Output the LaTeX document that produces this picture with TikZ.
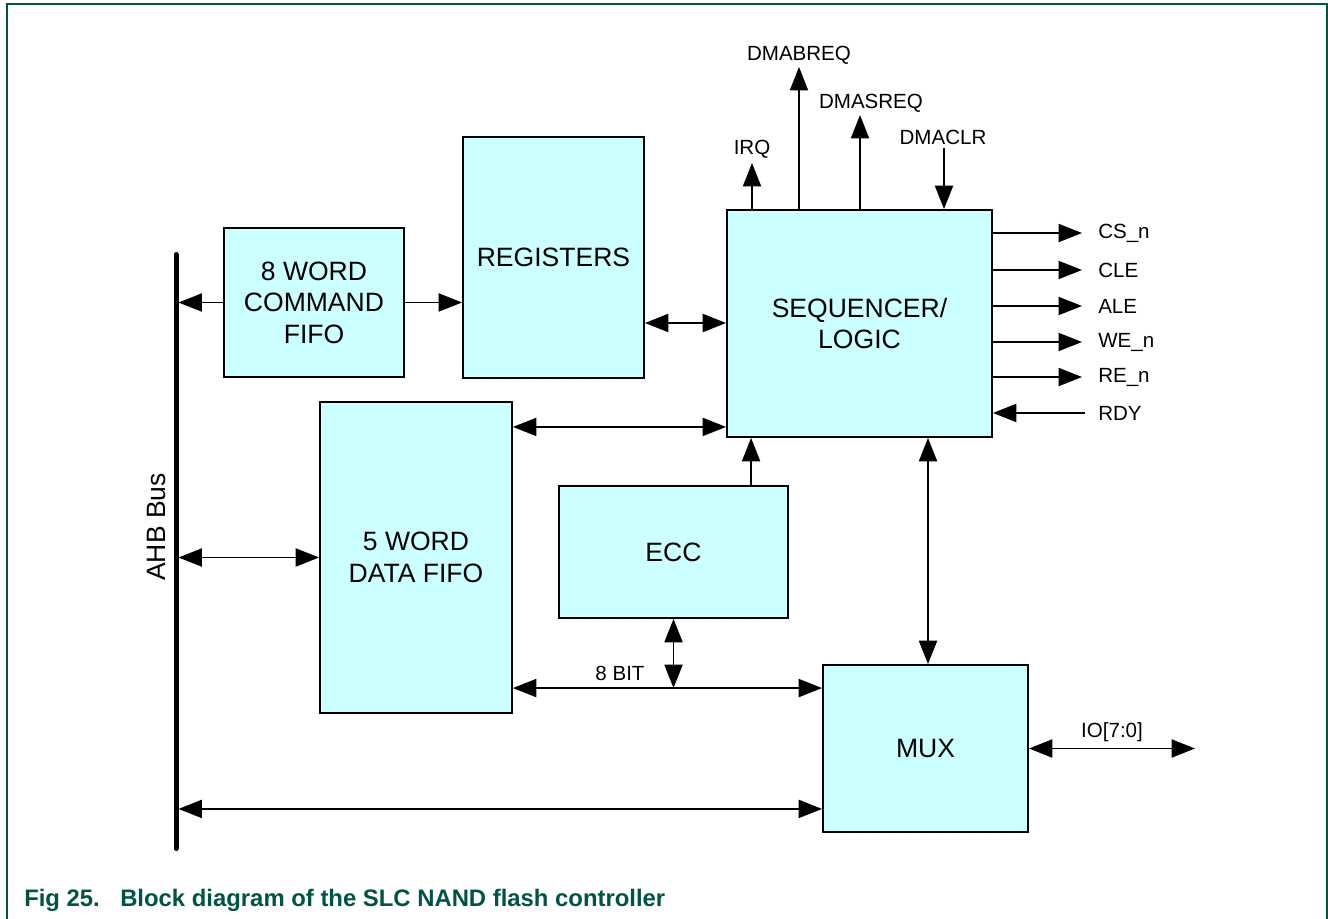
\documentclass[tikz,border=0pt]{standalone}
\usepackage{fontspec}
\setmainfont{Liberation Sans}
\usetikzlibrary{arrows.meta,calc}
\definecolor{nxpgreen}{RGB}{0,84,68}
\definecolor{boxfill}{RGB}{204,255,255}
\newcommand\mainsz{\fontsize{19.9}{23.6}\selectfont}
\newcommand\smallsz{\fontsize{15.4}{18}\selectfont}
\newcommand\capsz{\fontsize{17.9}{20}\selectfont\bfseries}
\begin{document}
\begin{tikzpicture}[x=0.75pt,y=-0.75pt,
  blk/.style={draw,line width=1.4pt,fill=boxfill,align=center,font=\mainsz,inner sep=0pt},
  lbl/.style={font=\smallsz,inner sep=0pt},
  tipA/.tip={Triangle[length=17.5pt,width=13.5pt]},
  arr/.style={line width=1.4pt,-tipA},
  biarr/.style={line width=1.4pt,tipA-tipA}]
\useasboundingbox (0,0) rectangle (1328,919);
% frame
\draw[nxpgreen,line width=1.5pt] (6.5,919) -- (6.5,4.5) -- (1327.2,4.5) -- (1327.2,919);
% bus
\coordinate (busT) at (176,254.5);
\coordinate (busB) at (176,848.5);
\coordinate (busE) at (178.5,0);
\draw[line width=3.75pt,line cap=round] (busT) -- (busB);
\node[rotate=90,font=\mainsz,inner sep=0pt] (ahb) at (157,527) {AHB Bus};
% blocks
\node[blk,minimum width=135pt,minimum height=111.75pt] (cmd) at (314,302.5) {8 WORD\\COMMAND\\FIFO};
\node[blk,minimum width=135.75pt,minimum height=180.75pt] (reg) at (553.5,257.5) {REGISTERS};
\node[blk,minimum width=198.75pt,minimum height=170.25pt] (seq) at (859.5,323.5) {SEQUENCER/\\LOGIC};
\node[blk,minimum width=144pt,minimum height=233.25pt] (data) at (416,557.5) {5 WORD\\DATA FIFO};
\node[blk,minimum width=171.75pt,minimum height=99pt] (ecc) at (673.5,552) {ECC};
\node[blk,minimum width=153.75pt,minimum height=125.25pt] (mux) at (925.5,748.5) {MUX};
% connectors
\draw[arr] (cmd.west) -- (cmd.west -| busE);
\draw[arr] (cmd.east) -- (cmd.east -| reg.west);
\path ($(reg.east)+(0,65.5)$) coordinate (r1);
\draw[biarr] (r1) -- (r1 -| seq.west);
\path ($(seq.south west)+(0,-11)$) coordinate (d1);
\draw[biarr] (d1 -| data.east) -- (d1);
\draw[biarr] (data.west -| busE) -- (data.west);
\path ($(ecc.north west)+(193,0)$) coordinate (e1);
\draw[arr] (e1) -- (e1 |- seq.south);
\path ($(mux.north west)+(0,24)$) coordinate (b8);
\draw[biarr] (b8 -| data.east) -- (b8);
\draw[biarr] (ecc.south) -- (ecc.south |- b8);
\node[lbl] (bit8) at (620,673) {8 BIT};
\path ($(mux.north)+(2.5,0)$) coordinate (m1);
\draw[biarr] (m1 |- seq.south) -- (m1);
\path ($(mux.south west)+(0,-24)$) coordinate (m2);
\draw[biarr] (m2 -| busE) -- (m2);
\coordinate (ioend) at (1195,748.5);
\draw[biarr] (mux.east) -- (ioend);
\node[lbl] (io) at (1112,732) {IO[7:0]};
% top signals
\coordinate (irqE) at (752,163);
\coordinate (dbE) at (799,67);
\coordinate (dsE) at (860,115);
\coordinate (dcS) at (944,148);
\draw[arr] (seq.north -| irqE) -- (irqE);
\draw[arr] (seq.north -| dbE) -- (dbE);
\draw[arr] (seq.north -| dsE) -- (dsE);
\draw[arr] (dcS) -- (seq.north -| dcS);
\node[lbl] (irq) at (752,149) {IRQ};
\node[lbl] (dmab) at (799,55) {DMABREQ};
\node[lbl] (dmas) at (871,103) {DMASREQ};
\node[lbl] (dmac) at (943,137) {DMACLR};
% right signals
\foreach \yy/\nm/\tx in {233/cs/CS\_n,270/cle/CLE,306/ale/ALE,342/we/WE\_n,377/re/RE\_n}{
  \coordinate (\nm E) at (1082,\yy);
  \draw[arr] (\nm E -| seq.east) -- (\nm E);
  \node[lbl,anchor=west] (\nm L) at (1098,\yy) {\tx};
}
\coordinate (rdyS) at (1085,413);
\draw[arr] (rdyS) -- (rdyS -| seq.east);
\node[lbl,anchor=west] (rdyL) at (1098,413) {RDY};
% caption
\node[anchor=base west,inner sep=0pt,text=nxpgreen,font=\capsz] (cap) at (24,906) {\makebox[72pt][l]{Fig 25.}Block diagram of the SLC NAND flash controller};
\end{tikzpicture}
\end{document}
